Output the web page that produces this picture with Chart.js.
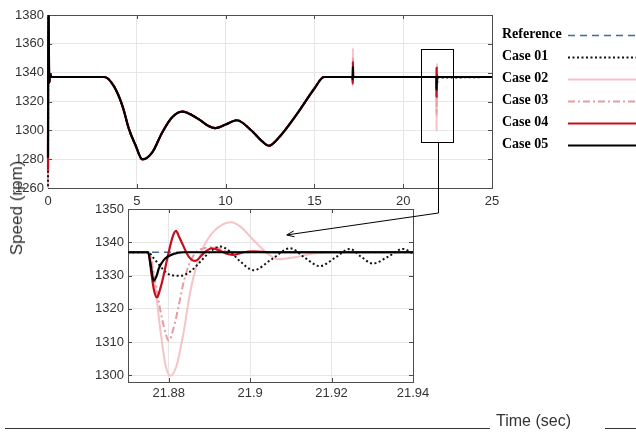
<!DOCTYPE html>
<html>
<head>
<meta charset="utf-8">
<script src="https://cdn.jsdelivr.net/npm/chart.js@4.4.1/dist/chart.umd.min.js"></script>
<style>
  html, body { margin: 0; padding: 0; background: #fff; }
  #wrap { position: relative; width: 636px; height: 434px; overflow: hidden; }
  #wrap canvas { position: absolute; left: 0; top: 0; }
  .ylab { position: absolute; left: 17px; top: 208px; transform: translate(-50%, -50%) rotate(-90deg);
          font: 17px "Liberation Sans", Arial, sans-serif; color: #333; white-space: nowrap; }
  .xlab { position: absolute; left: 496px; top: 412px; font: 16px "Liberation Sans", Arial, sans-serif; color: #333; }
  .rule { position: absolute; top: 428px; height: 1px; background: #333; }
</style>
</head>
<body>
<div id="wrap">
  <canvas id="mainChart" width="636" height="434"></canvas>
  <canvas id="zoomChart" width="636" height="434"></canvas>
  <div class="ylab">Speed (rpm)</div>
  <div class="rule" style="left:5px;width:485px"></div>
  <div class="xlab">Time (sec)</div>
  <div class="rule" style="left:605px;width:31px"></div>
</div>
<script>
// ---- data (time in sec, speed in rpm) ----
const caseNames = ['Reference', 'Case 01', 'Case 02', 'Case 03', 'Case 04', 'Case 05'];

const mainXTicks = [0, 5, 10, 15, 20, 25];
const mainYTicks = [1260, 1280, 1300, 1320, 1340, 1360, 1380];
const zoomXTicks = [21.88, 21.9, 21.92, 21.94];
const zoomYTicks = [1300, 1310, 1320, 1330, 1340, 1350];

// common speed profile
const profile = [[0.2, 1337], [3.16, 1337], [3.7, 1330.8], [4.19, 1317], [4.56, 1300.8], [4.94, 1289.3],
  [5.31, 1279.8], [5.87, 1284.7], [6.43, 1298.5], [6.99, 1309], [7.55, 1313], [8.48, 1307.8],
  [9.04, 1303], [9.42, 1301.5], [10.0, 1304], [10.63, 1307], [11.47, 1299.7], [12.03, 1292.7],
  [12.44, 1289.3], [13.0, 1295], [14.0, 1311], [15.0, 1329], [15.54, 1337], [17.0, 1337]];

// start-up transient
const startHigh = [[0, 1281], [0.02, 1395], [0.07, 1333], [0.12, 1339]];
const startMid = [[0, 1272], [0.02, 1395], [0.07, 1333], [0.12, 1339]];
const startLow = [[0, 1255], [0.02, 1395], [0.07, 1333], [0.12, 1339]];

// disturbance near t = 17.17 s
const spike01 = [[17.15, 1337], [17.16, 1334], [17.17, 1341], [17.18, 1337]];
const spike02 = [[17.15, 1337], [17.16, 1331], [17.17, 1357], [17.18, 1337]];
const spike03 = [[17.15, 1337], [17.16, 1332], [17.17, 1350], [17.18, 1337]];
const spike04 = [[17.15, 1337], [17.16, 1332.5], [17.17, 1347.5], [17.18, 1337]];
const spike05 = [[17.15, 1337], [17.16, 1335.5], [17.17, 1344], [17.18, 1337]];

// disturbance near t = 21.875 s (zoomed plot)
const zoomRef = [[21.87, 1337], [21.94, 1337]];
const zoom01 = [[21.87, 1337], [21.8749, 1337], [21.8763, 1335.2], [21.878, 1332.7], [21.8796, 1330.7],
  [21.8812, 1330], [21.8829, 1329.9], [21.8853, 1331.2], [21.8878, 1334.2], [21.8902, 1337.2],
  [21.8927, 1338.7], [21.8951, 1337.2], [21.8976, 1334.2], [21.9008, 1331.6], [21.9053, 1334.9],
  [21.9098, 1338.2], [21.9135, 1335.3], [21.9171, 1332.8], [21.9208, 1335.3], [21.9245, 1338],
  [21.9273, 1335.6], [21.9301, 1333.6], [21.9338, 1335.6], [21.9375, 1338], [21.94, 1336.6]];
const zoom02 = [[21.87, 1337], [21.8751, 1337], [21.8767, 1326.2], [21.878, 1313.2], [21.8792, 1303.2],
  [21.8804, 1299.9], [21.882, 1303.2], [21.8837, 1313.2], [21.8853, 1325.2], [21.8869, 1333.2],
  [21.8886, 1338.7], [21.891, 1343.2], [21.8953, 1346], [21.8976, 1344.7], [21.9008, 1340.7],
  [21.9041, 1336.8], [21.9068, 1334.9], [21.9114, 1335.6], [21.9155, 1336.6], [21.9236, 1337], [21.94, 1337]];
const zoom03 = [[21.87, 1337], [21.875, 1337], [21.8767, 1328.2], [21.878, 1319.2], [21.8789, 1314.2],
  [21.88, 1310.4], [21.8812, 1314.2], [21.8825, 1321.2], [21.8837, 1328.2], [21.8853, 1334.2],
  [21.8874, 1337.7], [21.8914, 1338.5], [21.8943, 1337.2], [21.9, 1337], [21.94, 1337]];
const zoom04 = [[21.87, 1337], [21.875, 1337], [21.8757, 1331], [21.8764, 1325.5], [21.8771, 1323.4],
  [21.8778, 1325.5], [21.8784, 1328.2], [21.88, 1337], [21.881, 1341.8], [21.8818, 1343.4],
  [21.8826, 1341.5], [21.8833, 1339.7], [21.8849, 1335.7], [21.8865, 1334.4], [21.8886, 1336.7],
  [21.8906, 1338.2], [21.8927, 1337.4], [21.8947, 1336.4], [21.8959, 1336.2], [21.8984, 1337],
  [21.9008, 1337.3], [21.905, 1337], [21.94, 1337]];
const zoom05 = [[21.87, 1337], [21.8749, 1337], [21.8756, 1333], [21.8763, 1328.4], [21.877, 1329.8],
  [21.8776, 1332.2], [21.8784, 1334], [21.8792, 1335.2], [21.8812, 1336.5], [21.8837, 1337], [21.94, 1337]];

const endPoint = [[25, 1337]];

// zoom box drawn on the main plot and the arrow to the inset
const zoomBox = { x0: 21.03, x1: 22.83, y0: 1291.9, y1: 1356.4 };
const arrowBendY = 1348.8;           // inset scale
const arrowTip = { x: 21.909, y: 1342.2 };  // inset scale

// ---- styles ----
const styles = {
  'Reference': { color: '#3f6c9c', width: 1.3, dash: [7, 5], order: 5 },
  'Case 01': { color: '#111111', width: 2, dash: [2, 2.5], order: 2 },
  'Case 02': { color: '#f5c3c8', width: 2, dash: [], order: 4 },
  'Case 03': { color: '#e99ba4', width: 2, dash: [7, 3, 2, 3], order: 3 },
  'Case 04': { color: '#c40f1c', width: 2.2, dash: [], order: 1 },
  'Case 05': { color: '#000000', width: 2.2, dash: [], order: 0 }
};

const toPts = arr => arr.map(([x, y]) => ({ x, y }));

const mainData = {
  'Reference': [[0, 1337], ...profile, ...zoomRef, ...endPoint],
  'Case 01': [...startLow, ...profile, ...spike01, ...zoom01, ...endPoint],
  'Case 02': [...startLow, ...profile, ...spike02, ...zoom02, ...endPoint],
  'Case 03': [...startLow, ...profile, ...spike03, ...zoom03, ...endPoint],
  'Case 04': [...startMid, ...profile, ...spike04, ...zoom04, ...endPoint],
  'Case 05': [...startHigh, ...profile, ...spike05, ...zoom05, ...endPoint]
};
const zoomData = {
  'Reference': zoomRef, 'Case 01': zoom01, 'Case 02': zoom02,
  'Case 03': zoom03, 'Case 04': zoom04, 'Case 05': zoom05
};

function makeDatasets(src, clip) {
  return caseNames.map(name => ({
    label: name,
    data: toPts(src[name]),
    borderColor: styles[name].color,
    borderWidth: styles[name].width,
    borderDash: styles[name].dash,
    order: styles[name].order,
    pointRadius: 0,
    fill: false,
    clip: clip
  }));
}

const tickFont = { family: '"Liberation Sans", Arial, sans-serif', size: 13 };
const tickColor = '#333';
const gridColor = '#e6e6e6';

// box with inward tick marks, matlab style
const boxPlugin = {
  id: 'box',
  beforeDatasetsDraw(chart) {
    const { ctx, chartArea: a, scales } = chart;
    ctx.save();
    ctx.strokeStyle = '#4d4d4d';
    ctx.lineWidth = 1;
    ctx.setLineDash([]);
    ctx.strokeRect(a.left + 0.5, a.top + 0.5, a.right - a.left, a.bottom - a.top);
    const len = 4;
    ctx.beginPath();
    scales.x.ticks.forEach(t => {
      const px = Math.round(scales.x.getPixelForValue(t.value)) + 0.5;
      ctx.moveTo(px, a.bottom); ctx.lineTo(px, a.bottom - len);
      ctx.moveTo(px, a.top); ctx.lineTo(px, a.top + len);
    });
    scales.y.ticks.forEach(t => {
      const py = Math.round(scales.y.getPixelForValue(t.value)) + 0.5;
      ctx.moveTo(a.left, py); ctx.lineTo(a.left + len, py);
      ctx.moveTo(a.right, py); ctx.lineTo(a.right - len, py);
    });
    ctx.stroke();
    ctx.restore();
  }
};

// legend on the right: text first, line sample after it
const sideLegend = {
  id: 'sideLegend',
  afterDraw(chart) {
    const ctx = chart.ctx;
    ctx.save();
    chart.data.datasets.forEach((ds, i) => {
      const y = 34 + i * 22;
      ctx.font = 'bold 14px "Liberation Serif", "Times New Roman", serif';
      ctx.fillStyle = '#000';
      ctx.textBaseline = 'middle';
      ctx.fillText(ds.label, 502, y);
      ctx.strokeStyle = ds.borderColor;
      ctx.lineWidth = ds.borderWidth;
      ctx.setLineDash(ds.borderDash);
      ctx.beginPath();
      ctx.moveTo(568, y + 1.5);
      ctx.lineTo(640, y + 1.5);
      ctx.stroke();
    });
    ctx.restore();
  }
};

const mainChart = new Chart(document.getElementById('mainChart'), {
  type: 'line',
  data: { datasets: makeDatasets(mainData, { left: 3, top: 0, right: 0, bottom: 0 }) },
  options: {
    responsive: false,
    animation: false,
    layout: { padding: { left: 0, top: 15, right: 144, bottom: 0 } },
    elements: { line: { cubicInterpolationMode: 'monotone' } },
    scales: {
      x: {
        type: 'linear', min: 0, max: 25,
        afterBuildTicks: s => { s.ticks = mainXTicks.map(v => ({ value: v })); },
        afterFit: s => { s.height = 434 - 188; },
        grid: { color: gridColor, drawTicks: false },
        border: { display: false },
        ticks: { padding: 6, font: tickFont, color: tickColor, callback: v => String(v) }
      },
      y: {
        type: 'linear', min: 1260, max: 1380,
        afterBuildTicks: s => { s.ticks = mainYTicks.map(v => ({ value: v })); },
        afterFit: s => { s.width = 48; },
        grid: { color: gridColor, drawTicks: false },
        border: { display: false },
        ticks: { padding: 4, font: tickFont, color: tickColor, callback: v => String(v) }
      }
    },
    plugins: { legend: { display: false }, tooltip: { enabled: false } }
  },
  plugins: [boxPlugin, sideLegend]
});

// white plot background for the inset, plus zoom box and arrow
const insetExtras = {
  id: 'insetExtras',
  beforeDraw(chart) {
    const { ctx, chartArea: a } = chart;
    ctx.save();
    ctx.fillStyle = '#fff';
    ctx.fillRect(a.left, a.top, a.right - a.left, a.bottom - a.top);
    ctx.restore();
  },
  afterDraw(chart) {
    const ctx = chart.ctx;
    const mx = mainChart.scales.x, my = mainChart.scales.y;
    const ix = chart.scales.x, iy = chart.scales.y;
    const bx0 = Math.round(mx.getPixelForValue(zoomBox.x0)) + 0.5;
    const bx1 = Math.round(mx.getPixelForValue(zoomBox.x1)) + 0.5;
    const by0 = Math.round(my.getPixelForValue(zoomBox.y0)) + 0.5;
    const by1 = Math.round(my.getPixelForValue(zoomBox.y1)) + 0.5;
    const cx = Math.round((bx0 + bx1) / 2) + 0.5;
    const bendY = iy.getPixelForValue(arrowBendY);
    const tx = ix.getPixelForValue(arrowTip.x), ty = iy.getPixelForValue(arrowTip.y);
    ctx.save();
    ctx.strokeStyle = '#000';
    ctx.lineWidth = 1;
    ctx.setLineDash([]);
    ctx.strokeRect(bx0, by1, bx1 - bx0, by0 - by1);
    ctx.beginPath();
    ctx.moveTo(cx, by0);
    ctx.lineTo(cx, bendY);
    ctx.lineTo(tx, ty);
    ctx.stroke();
    // arrow head
    const ang = Math.atan2(ty - bendY, tx - cx);
    const hl = 8, spread = 0.38;
    ctx.beginPath();
    ctx.moveTo(tx - hl * Math.cos(ang - spread), ty - hl * Math.sin(ang - spread));
    ctx.lineTo(tx, ty);
    ctx.lineTo(tx - hl * Math.cos(ang + spread), ty - hl * Math.sin(ang + spread));
    ctx.stroke();
    ctx.restore();
  }
};

const zoomChart = new Chart(document.getElementById('zoomChart'), {
  type: 'line',
  data: { datasets: makeDatasets(zoomData, 0) },
  options: {
    responsive: false,
    animation: false,
    layout: { padding: { left: 0, top: 209, right: 223, bottom: 0 } },
    elements: { line: { cubicInterpolationMode: 'monotone' } },
    scales: {
      x: {
        type: 'linear', min: 21.87, max: 21.94,
        afterBuildTicks: s => { s.ticks = zoomXTicks.map(v => ({ value: v })); },
        afterFit: s => { s.height = 434 - 382; },
        grid: { color: gridColor, drawTicks: false },
        border: { display: false },
        ticks: { padding: 4, font: tickFont, color: tickColor, callback: v => String(v) }
      },
      y: {
        type: 'linear', min: 1298, max: 1350,
        afterBuildTicks: s => { s.ticks = zoomYTicks.map(v => ({ value: v })); },
        afterFit: s => { s.width = 128; },
        grid: { color: gridColor, drawTicks: false },
        border: { display: false },
        ticks: { padding: 4, font: tickFont, color: tickColor, callback: v => String(v) }
      }
    },
    plugins: { legend: { display: false }, tooltip: { enabled: false } }
  },
  plugins: [insetExtras, boxPlugin]
});
</script>
</body>
</html>
